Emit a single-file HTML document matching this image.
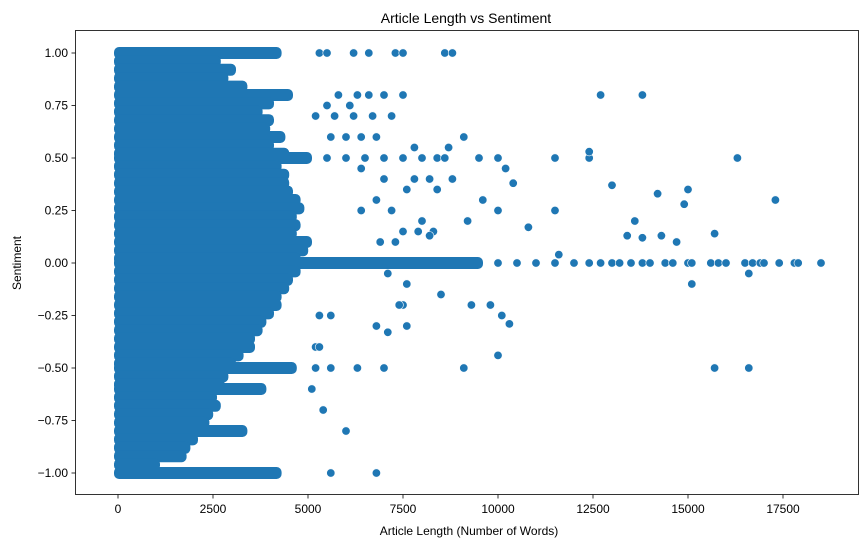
<!DOCTYPE html>
<html><head><meta charset="utf-8"><style>
html,body{margin:0;padding:0;background:#fff;}
svg{display:block;font-family:"Liberation Sans","DejaVu Sans",sans-serif;}
</style></head><body>
<svg id="chart" width="866" height="547" viewBox="0 0 866 547">
<rect x="0" y="0" width="866" height="547" fill="#fff"/>
<text x="466" y="23" text-anchor="middle" font-size="14" fill="#000">Article Length vs Sentiment</text>
<text x="469" y="535" text-anchor="middle" font-size="12" fill="#000">Article Length (Number of Words)</text>
<text x="21" y="263" text-anchor="middle" font-size="12" fill="#000" transform="rotate(-90 21 263)">Sentiment</text>
<g id="dense"></g>
<g id="points"></g>
<g id="xticks"></g>
<g id="yticks"></g>
<rect x="75.5" y="30.5" width="783" height="464" fill="none" stroke="#000" stroke-width="0.8"/>
</svg>
<script>
const xTicks=[0,2500,5000,7500,10000,12500,15000,17500];
const yTicks=[1,0.75,0.5,0.25,0,-0.25,-0.5,-0.75,-1];
const denseLevels=[1,0.96,0.92,0.88,0.84,0.8,0.76,0.72,0.68,0.64,0.6,0.56,0.52,0.5,0.46,0.42,0.38,0.34,0.3,0.26,0.22,0.18,0.14,0.1,0.06,0.02,0,-0.04,-0.08,-0.12,-0.16,-0.2,-0.24,-0.28,-0.32,-0.36,-0.4,-0.44,-0.48,-0.5,-0.54,-0.58,-0.6,-0.64,-0.68,-0.72,-0.76,-0.8,-0.84,-0.88,-0.92,-0.96,-1];
const denseExtent=[4200,2600,3000,2800,3300,4500,4000,3700,4000,3900,4300,4000,4400,5000,4200,4400,4400,4500,4700,4800,4600,4700,4600,5000,4900,4700,9500,4700,4500,4400,4200,4200,4000,3800,3700,3500,3500,3200,3000,4600,2800,2700,3800,2500,2600,2400,2300,3300,2000,1800,1700,1000,4200];
const ptX=[5300,5500,6200,6600,7300,7500,8600,8800,
5800,6300,6600,7000,7500,12700,13800,
5500,6100,
5200,5700,6200,6700,7200,
5600,6000,6400,6800,9100,
5500,6000,6500,7000,7500,8000,8400,8600,9500,10000,11500,12400,16300,
7800,8700,12400,10200,6400,
7000,7800,8200,8800,10400,13000,7600,8400,15000,14200,9600,17300,6800,14900,
6400,7200,10000,11500,8000,9200,13600,10800,7500,7900,8300,8200,13400,14300,13800,6900,7300,14700,15700,11600,
10000,10500,11000,11500,12000,12400,12700,13000,13200,
13500,13800,14000,14400,14600,15000,15100,15600,15800,
16000,16500,16700,16900,17000,17400,17800,17900,18500,
16600,7100,15100,7600,8500,7500,9300,9800,7400,5300,5600,10100,10300,7600,6800,7100,5200,5300,10000,
5200,5600,6300,7000,9100,15700,16600,5100,5400,6000,5600,6800];
const ptY=[1,1,1,1,1,1,1,1,
0.8,0.8,0.8,0.8,0.8,0.8,0.8,
0.75,0.75,
0.7,0.7,0.7,0.7,0.7,
0.6,0.6,0.6,0.6,0.6,
0.5,0.5,0.5,0.5,0.5,0.5,0.5,0.5,0.5,0.5,0.5,0.5,0.5,
0.55,0.55,0.53,0.45,0.45,
0.4,0.4,0.4,0.4,0.38,0.37,0.35,0.35,0.35,0.33,0.3,0.3,0.3,0.28,
0.25,0.25,0.25,0.25,0.2,0.2,0.2,0.17,0.15,0.15,0.15,0.13,0.13,0.13,0.12,0.1,0.1,0.1,0.14,0.04,
0,0,0,0,0,0,0,0,0,
0,0,0,0,0,0,0,0,0,
0,0,0,0,0,0,0,0,0,
-0.05,-0.05,-0.1,-0.1,-0.15,-0.2,-0.2,-0.2,-0.2,-0.25,-0.25,-0.25,-0.29,-0.3,-0.3,-0.33,-0.4,-0.4,-0.44,
-0.5,-0.5,-0.5,-0.5,-0.5,-0.5,-0.5,-0.6,-0.7,-0.8,-1,-1];

const NS='http://www.w3.org/2000/svg';
const X0=118,XS=665/17500,Y0=263,YS=210;
function sx(v){return X0+v*XS;}
function sy(v){return Y0-v*YS;}
const blue='#1f77b4';
const dense=document.getElementById('dense');
for(let i=0;i<denseLevels.length;i++){
  const r=document.createElementNS(NS,'rect');
  const x1=sx(0)-4,x2=sx(denseExtent[i])+4;
  r.setAttribute('x',x1);r.setAttribute('y',sy(denseLevels[i])-6);
  r.setAttribute('width',x2-x1);r.setAttribute('height',12);
  r.setAttribute('rx',5);r.setAttribute('fill',blue);
  
  
  dense.appendChild(r);
}
const pts=document.getElementById('points');
const n=Math.min(ptX.length,ptY.length);
for(let i=0;i<n;i++){
  const c=document.createElementNS(NS,'circle');
  c.setAttribute('cx',sx(ptX[i]));c.setAttribute('cy',sy(ptY[i]));
  c.setAttribute('r',4.2);c.setAttribute('fill',blue);
  c.setAttribute('stroke','#fff');c.setAttribute('stroke-width','0.6');
  
  
  pts.appendChild(c);
}
const xg=document.getElementById('xticks');
xTicks.forEach(t=>{
  const l=document.createElementNS(NS,'line');
  l.setAttribute('x1',sx(t));l.setAttribute('x2',sx(t));l.setAttribute('y1',494.5);l.setAttribute('y2',498.5);
  l.setAttribute('stroke','#000');l.setAttribute('stroke-width','0.8');
  
  
  xg.appendChild(l);
  const tx=document.createElementNS(NS,'text');
  tx.setAttribute('x',sx(t));tx.setAttribute('y',513);tx.setAttribute('text-anchor','middle');tx.setAttribute('font-size','12');
  tx.textContent=String(t);
  
  
  xg.appendChild(tx);
});
const yg=document.getElementById('yticks');
yTicks.forEach(t=>{
  const l=document.createElementNS(NS,'line');
  l.setAttribute('x1',71.5);l.setAttribute('x2',75.5);l.setAttribute('y1',sy(t));l.setAttribute('y2',sy(t));
  l.setAttribute('stroke','#000');l.setAttribute('stroke-width','0.8');
  
  
  yg.appendChild(l);
  const tx=document.createElementNS(NS,'text');
  tx.setAttribute('x',68);tx.setAttribute('y',sy(t)+4);tx.setAttribute('text-anchor','end');tx.setAttribute('font-size','12');
  tx.textContent=(t<0?'\u2212':'')+Math.abs(t).toFixed(2);
  
  
  yg.appendChild(tx);
});
</script>
</body></html>
